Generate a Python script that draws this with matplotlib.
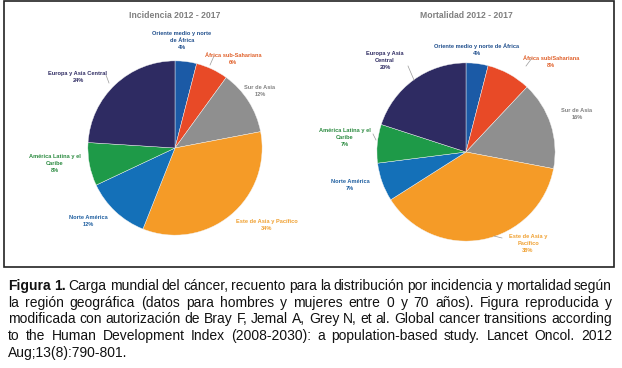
import matplotlib
matplotlib.use("Agg")
import matplotlib.pyplot as plt
from matplotlib.lines import Line2D
from matplotlib import font_manager

# ---- data ----
regions = ["Oriente medio y norte de África", "África sub-Sahariana", "Sur de Asia",
           "Este de Asia y Pacífico", "Norte América", "América Latina y el Caribe",
           "Europa y Asia Central"]
incidencia = [4, 6, 12, 34, 12, 8, 24]
mortalidad = [4, 8, 16, 38, 7, 7, 20]

slice_colors = ["#1b5aa6", "#e84a27", "#8f8f8f", "#f59b27", "#1470b8", "#1e9a48", "#2e2b62"]
label_colors = ["#1f4e8c", "#e0602a", "#808080", "#f0a030", "#1f5fa0", "#2a8a3f", "#2e2b62"]

# label text (line breaks as in the picture)
inc_labels = ["Oriente medio y norte\nde África\n4%", "África sub-Sahariana\n6%", "Sur de Asia\n12%",
              "Este de Asia y Pacífico\n34%", "Norte América\n12%", "América Latina y el\nCaribe\n8%",
              "Europa y Asia Central\n24%"]
mor_labels = ["Oriente medio y norte de África\n4%", "África sub/Sahariana\n8%", "Sur de Asia\n16%",
              "Este de Asia y\nPacífico\n38%", "Norte América\n7%", "América Latina y el\nCaribe\n7%",
              "Europa y Asia\nCentral\n20%"]

caption_lines = [
    "Figura 1. Carga mundial del cáncer, recuento para la distribución por incidencia y mortalidad según",
    "la región geográfica (datos para hombres y mujeres entre 0 y 70 años). Figura reproducida y",
    "modificada con autorización de Bray F, Jemal A, Grey N, et al. Global cancer transitions according",
    "to the Human Development Index (2008-2030): a population-based study. Lancet Oncol. 2012",
    "Aug;13(8):790-801.",
]

# ---- layout (pixels, origin top-left) ----
W, H = 622, 368
names = {f.name for f in font_manager.fontManager.ttflist}
small_font = "Liberation Sans Narrow" if "Liberation Sans Narrow" in names else "Liberation Sans"
cap_font = "Liberation Sans Narrow" if "Liberation Sans Narrow" in names else "Liberation Sans"


def fx(x):
    return x / W


def fy(y):
    return 1 - y / H


fig = plt.figure(figsize=(W / 100, H / 100), dpi=100)
fig.patch.set_facecolor("white")

# frame around the charts
fig.add_artist(plt.Rectangle((fx(4), fy(267)), fx(614) - fx(4), fy(1) - fy(267),
                             transform=fig.transFigure, fill=False, edgecolor="#222222", lw=1.2))


def draw_pie(cx, cy, r, values, title, labels, label_pos, leaders):
    ax = fig.add_axes([fx(cx - r), fy(cy + r), 2 * r / W, 2 * r / H])
    ax.pie(values, colors=slice_colors, startangle=90, counterclock=False,
           wedgeprops=dict(edgecolor="#f4f4f4", linewidth=0.3))
    ax.set_xlim(-1.01, 1.01)
    ax.set_ylim(-1.01, 1.01)
    ax.set_aspect("equal")
    ax.axis("off")
    fig.text(fx(cx), fy(15), title, ha="center", va="center", fontsize=6.2,
             fontweight="bold", color="#7f7f7f", family="Liberation Sans")
    for lab, col, (lx, ly) in zip(labels, label_colors, label_pos):
        fig.text(fx(lx), fy(ly), lab, ha="center", va="top", fontsize=4.1,
                 fontweight="bold", color=col, family=small_font, linespacing=1.5)
    for (x0, y0, x1, y1) in leaders:
        fig.add_artist(Line2D([fx(x0), fx(x1)], [fy(y0), fy(y1)], transform=fig.transFigure,
                              color="#999999", lw=0.5))


inc_pos = [(182, 31), (233, 53), (260, 85), (267, 219), (88, 215), (55, 154), (78, 71)]
inc_leaders = [(214, 56, 210, 65), (106, 75, 109, 83)]
draw_pie(175, 148, 88, incidencia, "Incidencia 2012 - 2017", inc_labels, inc_pos, inc_leaders)

mor_pos = [(477, 43), (551, 56), (577, 108), (528, 234), (350, 179), (345, 128), (385, 51)]
mor_leaders = [(532, 58, 526, 66), (408, 66, 414, 80), (373, 134, 376, 140), (502, 238, 494, 236)]
draw_pie(466, 152, 90, mortalidad, "Mortalidad 2012 - 2017", mor_labels, mor_pos, mor_leaders)

# ---- justified caption ----
renderer = fig.canvas.get_renderer()
left, right = 8, 612
line_y = [286, 303, 319, 336, 353]


def word_width(w, bold, size):
    t = fig.text(0, 0, w, fontsize=size, family=cap_font,
                 fontweight="bold" if bold else "normal")
    bb = t.get_window_extent(renderer)
    t.remove()
    return bb.width


def bold_flags(i, words):
    return [(i == 0 and k < 2) for k in range(len(words))]


# pick the size so the tightest line (3rd) just fits with plain spaces
cap_size = 10.0
for _ in range(4):
    words = caption_lines[2].split(" ")
    sp = word_width("a a", False, cap_size) - 2 * word_width("a", False, cap_size)
    natural = sum(word_width(w, False, cap_size) for w in words) + sp * (len(words) - 1)
    cap_size *= (right - left - 2) / natural

space_w = word_width("a a", False, cap_size) - 2 * word_width("a", False, cap_size)
for i, line in enumerate(caption_lines):
    words = line.split(" ")
    flags = bold_flags(i, words)
    widths = [word_width(w, b, cap_size) for w, b in zip(words, flags)]
    last = i == len(caption_lines) - 1
    if last or len(words) == 1:
        gap = space_w
    else:
        gap = ((right - left) - sum(widths)) / (len(words) - 1)
    x = left
    for w, b, wd in zip(words, flags, widths):
        fig.text(fx(x), fy(line_y[i]), w, ha="left", va="center", fontsize=cap_size,
                 family=cap_font, fontweight="bold" if b else "normal", color="#111111")
        x += wd + gap

fig.savefig("out.png", dpi=100)
